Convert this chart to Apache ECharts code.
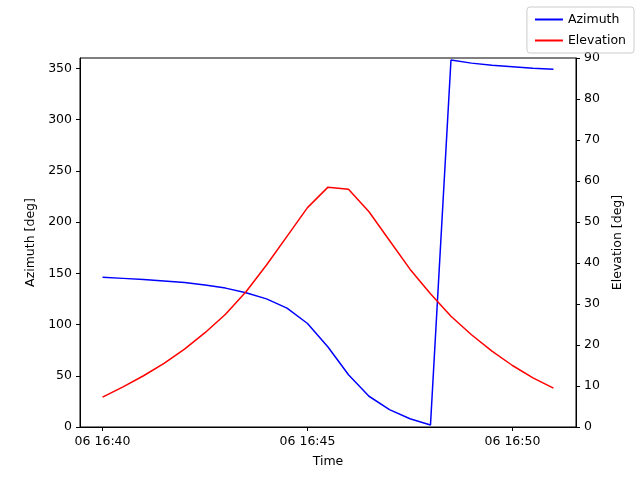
<!DOCTYPE html>
<html><head><meta charset="utf-8">
<script src="https://cdn.jsdelivr.net/npm/echarts@6/dist/echarts.min.js"></script>
<style>html,body{margin:0;padding:0;background:#fff}#c{width:640px;height:480px}</style>
</head><body><div id="c"></div>
<script>
const minutes = [0,0.5,1,1.5,2,2.5,3,3.5,4,4.5,5,5.5,6,6.5,7,7.5,8,8.5,9,9.5,10,10.5,11];
const azimuth = [146,145,144,142.5,141,138.5,135.5,131,125,116,101,78,51,30,17,8,2,358,355,353,351.5,350,349];
const elevation = [7.3,9.8,12.5,15.5,19,23,27.5,33,39.5,46.5,53.5,58.5,58,52.5,45.5,38.5,32.5,27,22.5,18.5,15,12,9.5];
const xTicks = [0,5,10];
const xTickLabels = ['06 16:40','06 16:45','06 16:50'];
const font = 'DejaVu Sans';
const ax = {axisLine:{show:true,onZero:false,lineStyle:{color:'#000'}},axisTick:{show:true,length:4,lineStyle:{color:'#000'}},
  axisLabel:{color:'#000',fontFamily:font,fontSize:12.5},splitLine:{show:false},nameTextStyle:{color:'#000',fontFamily:font,fontSize:12.5}};
const chart = echarts.init(document.getElementById('c'));
chart.setOption({
  animation:false,
  grid:{left:80,right:64,top:58,bottom:53,show:true,borderColor:'#000',borderWidth:1},
  legend:{right:6,top:7,orient:'vertical',itemWidth:28,itemHeight:2,itemGap:8,icon:'rect',
    borderColor:'#ccc',borderWidth:1,borderRadius:3,padding:[6,8,6,8],
    textStyle:{fontFamily:font,fontSize:12.5,color:'#000'},data:['Azimuth','Elevation']},
  xAxis:Object.assign({},ax,{type:'value',min:-0.55,max:11.55,name:'Time',nameLocation:'middle',nameGap:28,
    axisTick:{show:true,length:4,customValues:xTicks,lineStyle:{color:'#000'}},
    axisLabel:{color:'#000',fontFamily:font,fontSize:12.5,customValues:xTicks,formatter:v=>xTickLabels[xTicks.indexOf(v)]}}),
  yAxis:[
    Object.assign({},ax,{type:'value',min:0,max:360,interval:50,position:'left',name:'Azimuth [deg]',nameLocation:'middle',nameGap:42}),
    Object.assign({},ax,{type:'value',min:0,max:90,interval:10,name:'Elevation [deg]',nameLocation:'middle',nameGap:32,position:'right'})
  ],
  series:[
    {name:'Azimuth',type:'line',yAxisIndex:0,showSymbol:false,itemStyle:{color:'#0000ff'},lineStyle:{color:'#0000ff',width:1.5},
      data:minutes.map((m,i)=>[m,azimuth[i]])},
    {name:'Elevation',type:'line',yAxisIndex:1,showSymbol:false,itemStyle:{color:'#ff0000'},lineStyle:{color:'#ff0000',width:1.5},
      data:minutes.map((m,i)=>[m,elevation[i]])}
  ]
});
</script></body></html>
